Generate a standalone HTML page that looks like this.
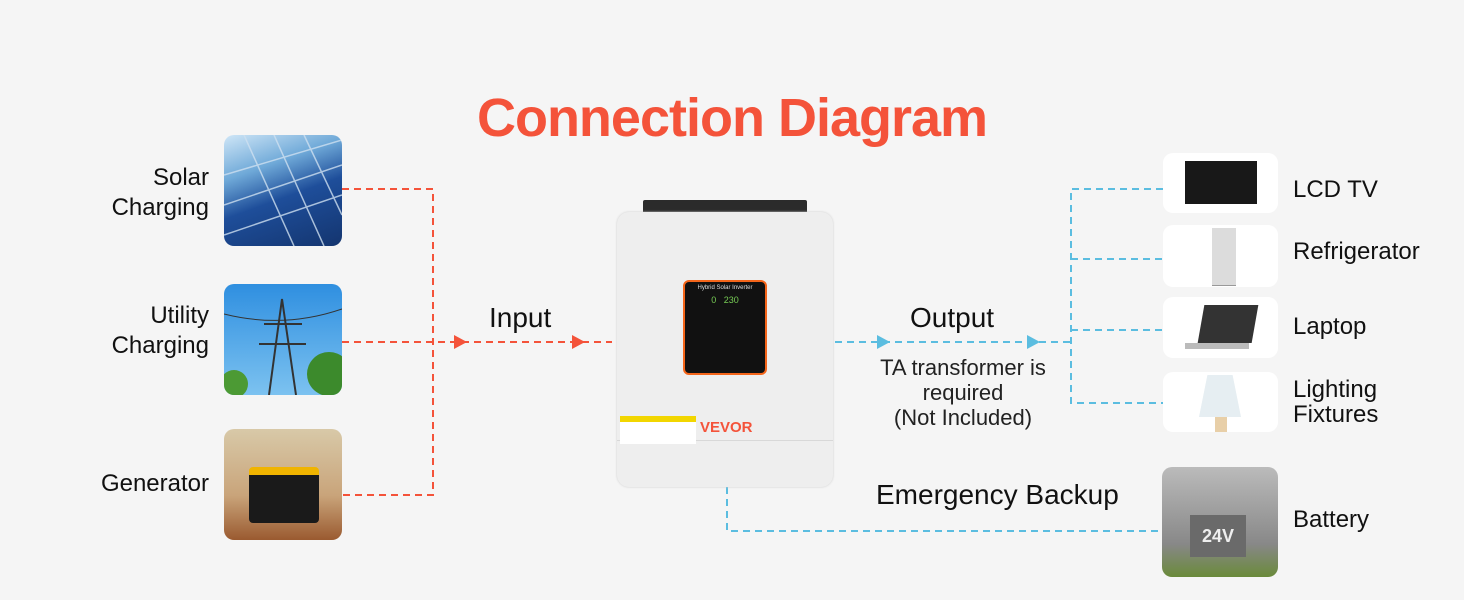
<!DOCTYPE html>
<html><head><meta charset="utf-8"><style>
body{margin:0;width:1464px;height:600px;background:#f5f5f5;font-family:"Liberation Sans",sans-serif;position:relative;overflow:hidden}
.t{position:absolute;color:#111;font-size:24px;line-height:30px;white-space:nowrap}
.r{text-align:right}
.card{position:absolute;background:#fff;border-radius:10px}
.img{position:absolute;border-radius:10px;overflow:hidden}
</style></head><body>
<div class="t" style="left:0;width:1464px;top:86px;text-align:center;font-size:54px;line-height:64px;font-weight:bold;color:#f4533a;letter-spacing:-1px">Connection Diagram</div>

<div class="t r" style="right:1255px;top:163px;line-height:30px">Solar<br>Charging</div>
<div class="t r" style="right:1255px;top:301px">Utility<br>Charging</div>
<div class="t r" style="right:1255px;top:469px">Generator</div>

<div class="img" style="left:224px;top:135px;width:118px;height:111px;background:linear-gradient(160deg,#cfe6f7 0%,#6fa9d8 30%,#1e4e9a 55%,#14356f 100%)">
<svg width="118" height="111"><g stroke="#cfe0f0" stroke-width="1.5" opacity=".8"><line x1="0" y1="40" x2="118" y2="5"/><line x1="0" y1="70" x2="118" y2="30"/><line x1="0" y1="100" x2="118" y2="60"/><line x1="20" y1="0" x2="70" y2="111"/><line x1="50" y1="0" x2="100" y2="111"/><line x1="80" y1="0" x2="118" y2="80"/></g></svg></div>
<div class="img" style="left:224px;top:284px;width:118px;height:111px;background:linear-gradient(180deg,#2f8fe0,#7cc2f0)">
<svg width="118" height="111"><g stroke="#333" stroke-width="2" fill="none"><path d="M45 111 L58 15 L72 111 M40 40 L78 40 M35 60 L82 60"/><path d="M0 30 Q60 45 118 25" stroke-width="1"/></g><circle cx="105" cy="90" r="22" fill="#3c8a2c"/><circle cx="10" cy="100" r="14" fill="#4c9a34"/></svg></div>
<div class="img" style="left:224px;top:429px;width:118px;height:111px;background:linear-gradient(180deg,#d8c9a8,#c9a47a 60%,#9a5a30)">
<div style="position:absolute;left:25px;top:38px;width:70px;height:48px;background:#1a1a1a;border-top:8px solid #f0b400;border-radius:4px"></div></div>

<svg style="position:absolute;left:0;top:0" width="1464" height="600">
<g stroke="#f4533a" stroke-width="2" stroke-dasharray="7,5" fill="none">
<path d="M342 189H433V495H342"/><path d="M342 342H612"/></g>
<g fill="#f4533a"><path d="M454 335L467 342L454 349Z"/><path d="M572 335L585 342L572 349Z"/></g>
<g stroke="#5bbde0" stroke-width="2" stroke-dasharray="7,5" fill="none">
<path d="M835 342H1071"/><path d="M1163 189H1071V403H1163"/><path d="M1071 259H1163M1071 330H1163"/>
<path d="M727 487V531H1162"/></g>
<g fill="#5bbde0"><path d="M877 335L890 342L877 349Z"/><path d="M1027 335L1040 342L1027 349Z"/></g>
</svg>

<div class="t" style="left:489px;top:301px;font-size:28px;line-height:34px">Input</div>
<div class="t" style="left:910px;top:301px;font-size:28px;line-height:34px">Output</div>
<div class="t" style="left:863px;top:355px;width:200px;text-align:center;font-size:22px;line-height:25px;color:#222">TA transformer is<br>required<br>(Not Included)</div>
<div class="t" style="left:876px;top:478px;font-size:28px;line-height:34px">Emergency Backup</div>

<!-- inverter -->
<div style="position:absolute;left:643px;top:200px;width:164px;height:14px;background:#2b2b2b;border-radius:2px"></div>
<div style="position:absolute;left:617px;top:212px;width:216px;height:275px;background:#eeeeee;border-radius:12px;box-shadow:0 0 2px #ccc"></div>
<div style="position:absolute;left:617px;top:440px;width:216px;height:1px;background:#d8d8d8"></div>
<div style="position:absolute;left:683px;top:280px;width:80px;height:91px;background:#111;border:2px solid #f4651a;border-radius:6px;color:#ddd;font-size:6px;text-align:center;line-height:12px">Hybrid Solar Inverter<div style="color:#7c5;font-size:9px">0 &nbsp; 230</div></div>
<div style="position:absolute;left:620px;top:416px;width:76px;height:22px;background:#fff;border-top:6px solid #f2d600"></div>
<div style="position:absolute;left:700px;top:419px;color:#f4533a;font-weight:bold;font-size:15px">VEVOR</div>

<!-- right -->
<div class="card" style="left:1163px;top:153px;width:115px;height:60px"><div style="position:absolute;left:22px;top:8px;width:72px;height:43px;background:#181818"></div></div>
<div class="card" style="left:1163px;top:225px;width:115px;height:62px"><div style="position:absolute;left:49px;top:3px;width:24px;height:57px;background:#dcdcdc;border-bottom:1px solid #999"></div></div>
<div class="card" style="left:1163px;top:297px;width:115px;height:61px"><div style="position:absolute;left:38px;top:8px;width:54px;height:38px;background:#333;transform:skewX(-10deg)"></div><div style="position:absolute;left:22px;top:46px;width:64px;height:6px;background:#bbb"></div></div>
<div class="card" style="left:1163px;top:372px;width:115px;height:60px"><div style="position:absolute;left:36px;top:3px;width:42px;height:42px;background:#e6eef2;clip-path:polygon(20% 0,80% 0,100% 100%,0 100%)"></div><div style="position:absolute;left:52px;top:45px;width:12px;height:15px;background:#e8cfa8"></div></div>
<div class="img" style="left:1162px;top:467px;width:116px;height:110px;background:linear-gradient(180deg,#bbb,#888 70%,#6a8a3a)"><div style="position:absolute;left:28px;top:48px;width:56px;height:42px;background:#6a6a6a;color:#eee;font-weight:bold;font-size:18px;text-align:center;line-height:42px">24V</div></div>

<div class="t" style="left:1293px;top:175px">LCD TV</div>
<div class="t" style="left:1293px;top:237px">Refrigerator</div>
<div class="t" style="left:1293px;top:312px">Laptop</div>
<div class="t" style="left:1293px;top:377px;line-height:25px">Lighting<br>Fixtures</div>
<div class="t" style="left:1293px;top:505px">Battery</div>
</body></html>
